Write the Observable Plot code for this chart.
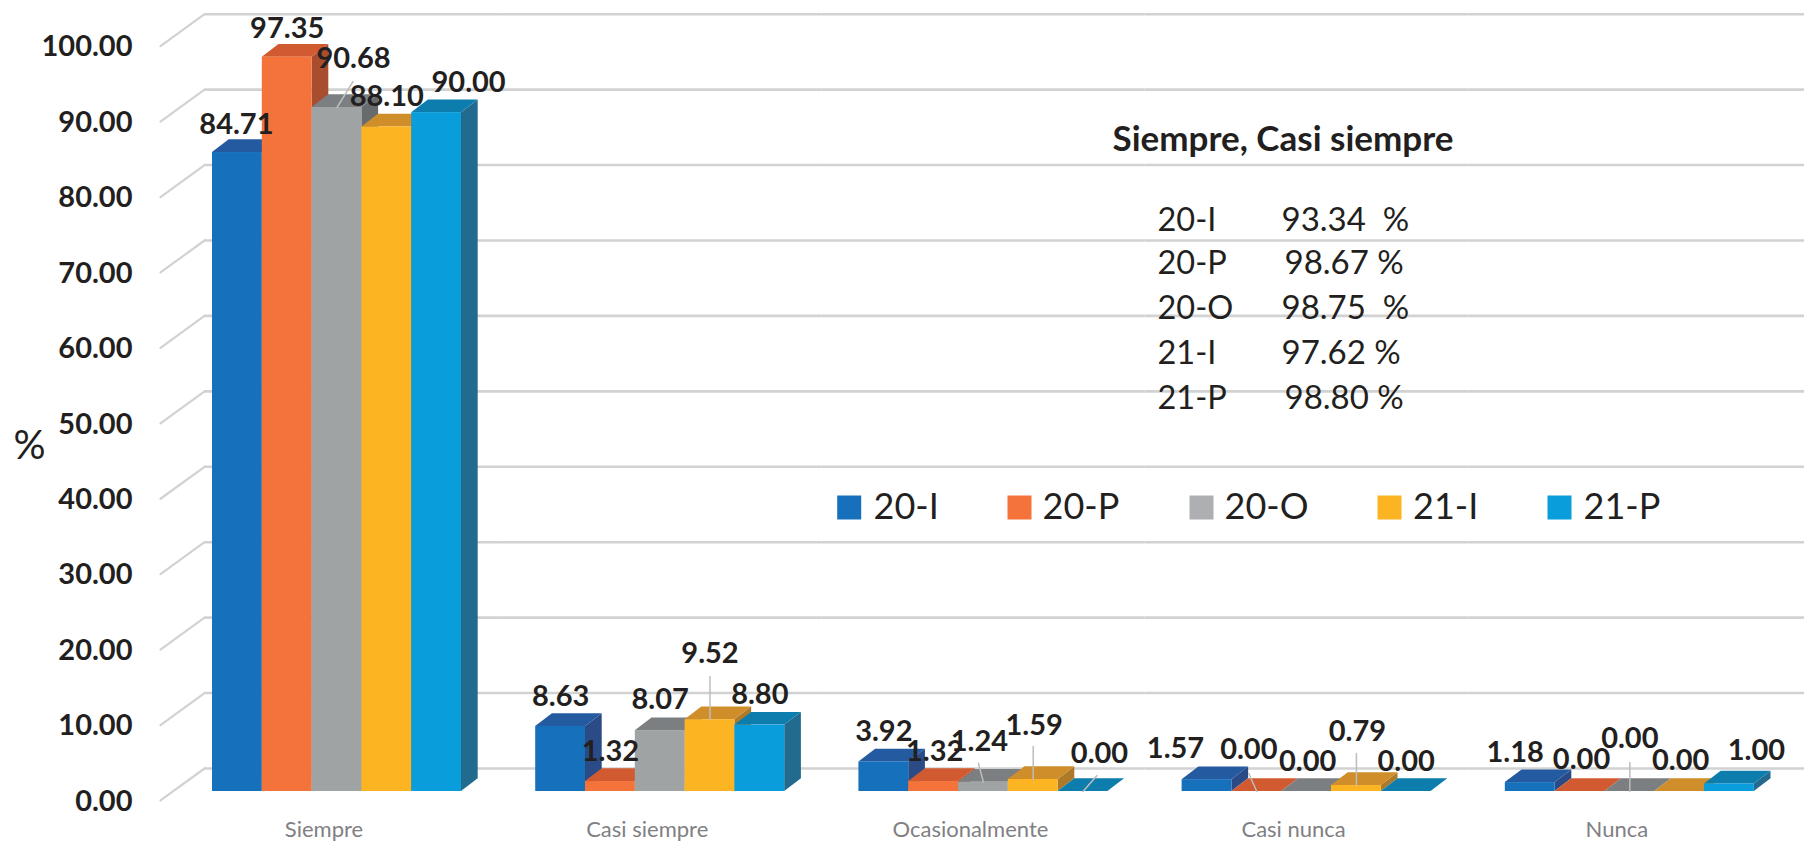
<!DOCTYPE html>
<html><head><meta charset="utf-8">
<script src="https://cdn.jsdelivr.net/npm/d3@7"></script>
<script src="https://cdn.jsdelivr.net/npm/@observablehq/plot@0.6"></script>
<style>html,body{margin:0;padding:0;background:#fff}svg{display:block}text{white-space:pre}</style>
</head><body><div id="chart"></div>
<script>
const categories = ["Siempre","Casi siempre","Ocasionalmente","Casi nunca","Nunca"];
const series = ["20-I","20-P","20-O","21-I","21-P"];
const values20I = [84.71,8.63,3.92,1.57,1.18];
const values20P = [97.35,1.32,1.32,0.00,0.00];
const values20O = [90.68,8.07,1.24,0.00,0.00];
const values21I = [88.10,9.52,1.59,0.79,0.00];
const values21P = [90.00,8.80,0.00,0.00,1.00];
const yTicks = [0,10,20,30,40,50,60,70,80,90,100];
const summaryTitle = "Siempre, Casi siempre";
const summaryValues = ["93.34  %","98.67 %","98.75  %","97.62 %","98.80 %"];

// styling and layout, kept apart from the values
const frontColors = ["#1670bb","#f4733a","#9fa3a4","#fdb422","#099ddb"];
const topColors   = ["#245a9f","#d15a30","#7b7f82","#cf8e2a","#0d7dad"];
const sideColors  = ["#2b4b86","#a84d2d","#676b6d","#ad7a2a","#236b8e"];
const legendColors= ["#1670bb","#f4733a","#aeafb2","#fdb422","#099ddb"];
const labelDx = [[-1,0,16.5,0,32],[0,0,0,0,0],[0,1,-4,1,16.5],[-31.5,-8,1,1,0],[-15,1.5,0,1,27]];
const labelDy = [[-28,-28,-49,-30.5,-30],[-30,-30,-31,-66,-30.6],[-30,-30,-40.6,-54,-38],[-31,-42,-30,-54,-30],[-30,-32,-53,-31,-33.5]];
const leaders = [
  {category:0,serie:2,len:30.5,angle:31.6},
  {category:1,serie:3,len:43,angle:0},
  {category:2,serie:2,len:19.6,angle:-14.7},
  {category:2,serie:3,len:33,angle:0},
  {category:2,serie:4,len:21,angle:41},
  {category:3,serie:1,len:19.7,angle:-24},
  {category:3,serie:3,len:32,angle:0},
  {category:4,serie:2,len:29,angle:0}
];
const gridInsets = [[-8,-37.1],[-37.1,-37.1],[-37.1,-37.1],[-37.1,-37.1],[-37.1,-50.2]];
const depthX = 16.7, depthY = 12.7;
const W = 1804, H = 841, mL = 204, mT = 36.7, mB = 50;
const superLeft = 212;
const FONT = "Lato";
const ink = "#231f20";

const allValues = [values20I,values20P,values20O,values21I,values21P];
const rows = [];
categories.forEach((c,ci)=>series.forEach((s,si)=>rows.push({category:c,serie:s,value:allValues[si][ci],ci,si})));
const valueOf = (ci,si)=>allValues[si][ci];

const line = {draw(ctx,l){ctx.moveTo(0,0);ctx.lineTo(0,-l);}};

function faces(index, scales, values, dimensions, context, next){
  const g = next(index, scales, values, dimensions, context);
  const NS = "http://www.w3.org/2000/svg";
  g.querySelectorAll("rect").forEach(rect=>{
    const r = rows[rect.__data__];
    const x = +rect.getAttribute("x"), y = +rect.getAttribute("y");
    const w = +rect.getAttribute("width"), h = +rect.getAttribute("height");
    const side = document.createElementNS(NS,"polygon");
    side.setAttribute("points",`${x+w},${y} ${x+w+depthX},${y-depthY} ${x+w+depthX},${y+h-depthY} ${x+w},${y+h}`);
    side.setAttribute("fill",sideColors[r.si]);
    const top = document.createElementNS(NS,"polygon");
    top.setAttribute("points",`${x},${y} ${x+depthX},${y-depthY} ${x+w+depthX},${y-depthY} ${x+w},${y}`);
    top.setAttribute("fill",topColors[r.si]);
    rect.parentNode.insertBefore(side,rect);
    rect.parentNode.insertBefore(top,rect);
  });
  return g;
}

const at = (x,y,o={})=>({facet:"super",frameAnchor:"top-left",dx:x-superLeft,dy:y-mT,...o});
const staticText = (t,x,y,o)=>Plot.text([t],at(x,y,{text:d=>d,fill:ink,textAnchor:"start",lineAnchor:"middle",...o}));

const legendSwatchX = [836.7,1007,1189,1377,1547];
const legendTextX = [873,1042,1224,1412.5,1583];
const tableRowY = [220,263,308,353,398];
const tableValueX = [1281,1284,1281,1281,1284];

const marks = [
  ...categories.map((c,i)=>Plot.ruleY(yTicks,{fx:()=>c,y:d=>d,dy:-23,insetLeft:gridInsets[i][0],insetRight:gridInsets[i][1],stroke:"#d2d2d2",strokeWidth:2.6})),
  Plot.vector(yTicks,{fx:()=>categories[0],y:d=>d,frameAnchor:"left",dx:-8,dy:-23,anchor:"start",length:()=>54.4,rotate:()=>-126,shape:line,stroke:"#d2d2d2",strokeWidth:2.2}),
  Plot.axisY({ticks:yTicks,tickFormat:d3.format(".2f"),tickSize:0,tickPadding:80,dy:10,fontSize:29,fontWeight:700,fill:ink,label:null}),
  Plot.axisFx({anchor:"bottom",tickSize:0,tickPadding:30,dx:-13,fontSize:22,fill:"#7f8083",label:null}),
  Plot.barY(rows,{fx:"category",x:"serie",y:"value",fill:"serie",render:faces}),
  Plot.vector(leaders,{fx:d=>categories[d.category],x:d=>series[d.serie],y:d=>valueOf(d.category,d.serie),anchor:"start",length:d=>d.len,rotate:d=>d.angle,shape:line,stroke:"#bdbdbd",strokeWidth:1.5}),
  ...rows.map(r=>Plot.text([r],{fx:"category",x:"serie",y:"value",text:d=>d3.format(".2f")(d.value),dx:labelDx[r.ci][r.si],dy:labelDy[r.ci][r.si],fontSize:29,fontWeight:700,fill:ink,lineAnchor:"middle"})),
  staticText("%",29,446,{fontSize:40,textAnchor:"middle"}),
  staticText(summaryTitle,1112,139,{fontSize:35,fontWeight:700}),
  ...series.map((s,i)=>staticText(s,1157,tableRowY[i],{fontSize:32.5})),
  ...summaryValues.map((s,i)=>staticText(s,tableValueX[i],tableRowY[i],{fontSize:33})),
  ...series.map((s,i)=>Plot.dot([s],at(legendSwatchX[i]+12,507,{symbol:"square",r:13.54,fill:legendColors[i],stroke:null}))),
  ...series.map((s,i)=>staticText(s,legendTextX[i],507,{fontSize:36}))
];

const chart = Plot.plot({
  width:W,height:H,marginLeft:mL,marginRight:0,marginTop:mT,marginBottom:mB,
  style:{fontFamily:FONT,background:"#fff",overflow:"hidden"},
  fx:{domain:categories,paddingInner:0.2296,paddingOuter:0.09,align:0.1375,round:false},
  x:{domain:series,padding:0,round:false,axis:null},
  y:{domain:[0,100]},
  color:{domain:series,range:frontColors},
  length:{type:"identity"},
  marks
});
document.getElementById("chart").append(chart);
</script></body></html>
